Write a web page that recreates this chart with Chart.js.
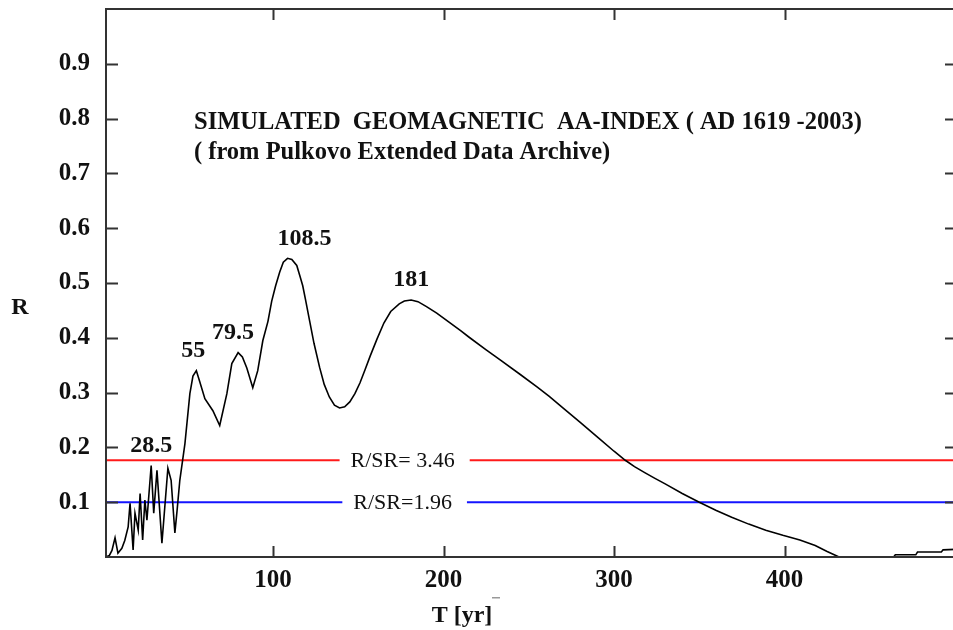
<!DOCTYPE html>
<html>
<head>
<meta charset="utf-8">
<script src="https://cdn.jsdelivr.net/npm/chart.js@4.4.1/dist/chart.umd.min.js"></script>
<style>
  html, body { margin: 0; padding: 0; background: #fff; overflow: hidden; }
  #wrap { width: 956px; height: 630px; }
</style>
</head>
<body>
<div id="wrap"><canvas id="aa" width="956" height="630"></canvas></div>
<script>
// period T [yr] and spectral amplitude R of the simulated aa-index
const periodYears = [
  2, 4, 5.5, 7.3, 9, 11.3, 13, 15, 16.1, 17.9, 19, 20.9, 22, 23.5, 24.8, 26,
  28.5, 30, 31.9, 34.8, 38.3, 40.2, 42.4, 43.7, 45.3, 48.3, 51.2, 53, 55,
  57, 60, 64.7, 68.7, 72.9, 75.8, 79.5, 82, 84.6, 88.1, 91, 94, 97, 99.2, 101.5,
  103.9, 106, 108.5, 111, 113.9, 116, 117.4, 119, 121.5, 124, 127.3, 130, 133,
  136, 139, 142, 145, 148, 151, 154, 157, 161, 165, 169, 174, 177, 181, 185,
  190, 196, 203, 210, 215, 225, 233, 245, 255, 262, 270, 280, 291, 300, 306.6,
  312, 318, 324, 330, 340, 350, 360, 369, 379, 389, 399, 409, 418, 425, 432,
  464, 465, 477, 478, 492, 493, 500
];
const rValues = [
  0.0, 0.003, 0.012, 0.035, 0.007, 0.016, 0.03, 0.055, 0.098, 0.013, 0.08, 0.049, 0.116, 0.031, 0.104, 0.067,
  0.167, 0.08, 0.158, 0.025, 0.162, 0.14, 0.044, 0.085, 0.14, 0.207, 0.298, 0.33, 0.34,
  0.32, 0.289, 0.267, 0.24, 0.298, 0.353, 0.373, 0.365, 0.345, 0.309, 0.34, 0.395, 0.43, 0.467, 0.495,
  0.52, 0.538, 0.545, 0.543, 0.532, 0.51, 0.495, 0.47, 0.43, 0.39, 0.346, 0.315, 0.292,
  0.277, 0.272, 0.274, 0.283, 0.298, 0.318, 0.342, 0.367, 0.398, 0.427, 0.448, 0.462, 0.467, 0.469, 0.466,
  0.457, 0.445, 0.429, 0.413, 0.401, 0.378, 0.36, 0.333, 0.31, 0.293, 0.272, 0.246, 0.217, 0.193, 0.1765,
  0.165, 0.154, 0.1435, 0.1335, 0.116, 0.1, 0.085, 0.0725, 0.06, 0.049, 0.0395, 0.031, 0.021, 0.01, 0,
  0, 0.004, 0.004, 0.009, 0.009, 0.013, 0.014
];

// labelled spectral peaks (years)
const peakPeriods = [28.5, 55, 79.5, 108.5, 181];

// significance levels, as multiples of the noise level
const srRatios = [1.96, 3.46];
const srUnit = 0.1 / 1.96;

const xTicks = [100, 200, 300, 400];
const yTicks = [0.1, 0.2, 0.3, 0.4, 0.5, 0.6, 0.7, 0.8, 0.9];

const titleLines = [
  'SIMULATED  GEOMAGNETIC  AA-INDEX ( AD 1619 -2003)',
  '( from Pulkovo Extended Data Archive)'
];

const serif = '"Liberation Serif", "Times New Roman", serif';
const levelColors = ['#1414ff', '#ff1a1a'];

// small per-label nudges so the numbers sit where they read best
const peakNudge = { 28.5: 0, 55: -3, 79.5: -5, 108.5: 17, 181: 0 };

const annotate = {
  id: 'annotate',
  afterDatasetsDraw(chart) {
    const { ctx, chartArea: a, scales: { x, y } } = chart;
    ctx.save();

    // frame and inward tick marks on all four sides
    ctx.strokeStyle = '#333';
    ctx.lineWidth = 2;
    ctx.strokeRect(a.left, a.top, a.right - a.left, a.bottom - a.top);
    ctx.beginPath();
    x.ticks.forEach(t => {
      const px = Math.round(x.getPixelForValue(t.value)) + 0.5;
      ctx.moveTo(px, a.bottom); ctx.lineTo(px, a.bottom - 11);
      ctx.moveTo(px, a.top); ctx.lineTo(px, a.top + 11);
    });
    y.ticks.forEach(t => {
      const py = Math.round(y.getPixelForValue(t.value)) + 0.5;
      ctx.moveTo(a.left, py); ctx.lineTo(a.left + 12, py);
      ctx.moveTo(a.right, py); ctx.lineTo(a.right - 10, py);
    });
    ctx.stroke();

    ctx.fillStyle = '#111';
    ctx.textBaseline = 'middle';

    // caption
    ctx.font = 'bold 24.5px ' + serif;
    ctx.textAlign = 'left';
    titleLines.forEach((line, i) => ctx.fillText(line, 194, 123 + i * 30));

    // peak periods
    ctx.font = 'bold 24px ' + serif;
    ctx.textAlign = 'center';
    peakPeriods.forEach(p => {
      const r = rValues[periodYears.indexOf(p)];
      ctx.fillText(String(p), x.getPixelForValue(p) + peakNudge[p], y.getPixelForValue(r) - 20);
    });

    // significance level captions, cut into their lines
    ctx.font = '22px ' + serif;
    srRatios.forEach(k => {
      const label = k === 1.96 ? 'R/SR=1.96' : 'R/SR= 3.46';
      const py = y.getPixelForValue(k * srUnit);
      const cx = x.getPixelForValue(176);
      const w = ctx.measureText(label).width;
      ctx.fillStyle = '#fff';
      ctx.fillRect(cx - w / 2 - 11, py - 4, w + 26, 8);
      ctx.fillStyle = '#111';
      ctx.fillText(label, cx, py + 1);
    });

    // axis titles
    ctx.font = 'bold 24px ' + serif;
    ctx.fillText('R', 20, 308);
    ctx.fillText('T [yr]', 462, 616);
    ctx.fillStyle = '#999';
    ctx.fillRect(492, 597, 8, 1.5);

    ctx.restore();
  }
};

const tickFont = { family: serif, size: 25, weight: 'bold' };

new Chart(document.getElementById('aa'), {
  type: 'line',
  data: {
    datasets: [
      {
        data: periodYears.map((p, i) => ({ x: p, y: rValues[i] })),
        borderColor: '#000',
        borderWidth: 1.6,
        pointRadius: 0,
        tension: 0
      },
      ...srRatios.map((k, i) => ({
        data: [{ x: 2, y: k * srUnit }, { x: 500, y: k * srUnit }],
        borderColor: levelColors[i],
        borderWidth: 2,
        pointRadius: 0
      }))
    ]
  },
  options: {
    responsive: false,
    animation: false,
    layout: { padding: { top: 9, right: 1, left: 0, bottom: 0 } },
    plugins: {
      legend: { display: false },
      tooltip: { enabled: false }
    },
    scales: {
      x: {
        type: 'linear',
        min: 2,
        max: 500,
        grid: { display: false, drawTicks: false },
        border: { display: false },
        afterBuildTicks: s => { s.ticks = xTicks.map(v => ({ value: v })); },
        afterFit: s => { s.height = 73; s.paddingLeft = 0; s.paddingRight = 0; },
        ticks: { font: tickFont, color: '#111', padding: 9, maxRotation: 0, callback: v => String(v) }
      },
      y: {
        min: 0,
        max: 1,
        grid: { display: false, drawTicks: false },
        border: { display: false },
        afterBuildTicks: s => { s.ticks = yTicks.map(v => ({ value: v })); },
        afterFit: s => { s.width = 106; s.paddingTop = 0; s.paddingBottom = 0; },
        ticks: { font: tickFont, color: '#111', padding: 16, callback: v => v.toFixed(1) }
      }
    }
  },
  plugins: [annotate]
});
</script>
</body>
</html>
